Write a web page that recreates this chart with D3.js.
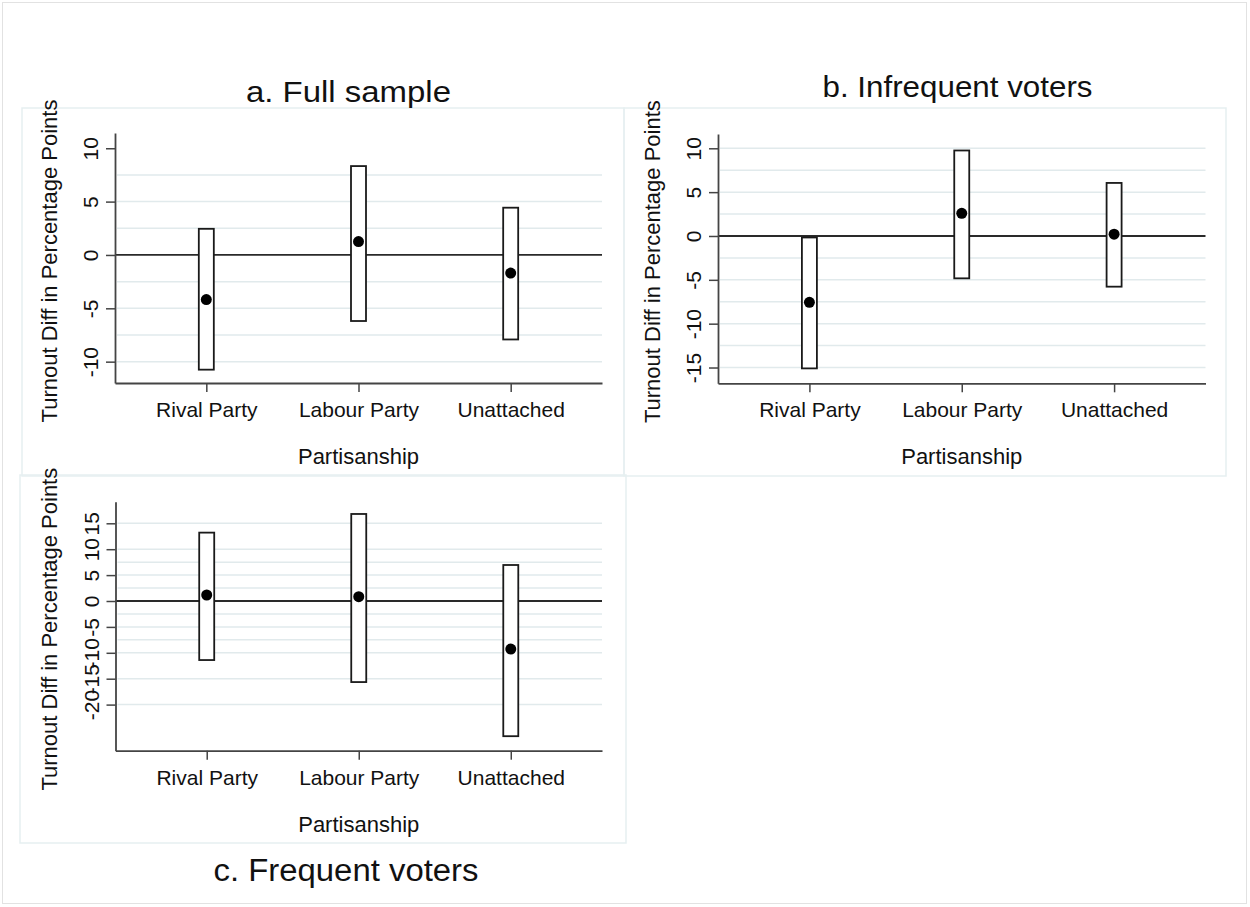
<!DOCTYPE html>
<html><head><meta charset="utf-8">
<script src="https://cdn.jsdelivr.net/npm/d3@7"></script>
<style>
body{margin:0;background:#fff}
svg{display:block;font-family:"Liberation Sans",Arial,Helvetica,sans-serif}
</style>
</head><body>
<svg id="chart" width="1250" height="907"></svg>
<script>
// ---- data ----
const categories = ["Rival Party", "Labour Party", "Unattached"];
const xAxisTitle = "Partisanship";
const yAxisTitle = "Turnout Diff in Percentage Points";
const panelTitles = ["a. Full sample", "b. Infrequent voters", "c. Frequent voters"];

const fullEst  = [-4.18, 1.26, -1.70];
const fullLow  = [-10.75, -6.19, -7.92];
const fullHigh = [2.45, 8.33, 4.43];

const infreqEst  = [-7.57, 2.59, 0.20];
const infreqLow  = [-15.1, -4.83, -5.78];
const infreqHigh = [-0.17, 9.75, 6.05];

const freqEst  = [1.16, 0.84, -9.27];
const freqLow  = [-11.4, -15.65, -26.1];
const freqHigh = [13.2, 16.8, 6.95];

const fullTicks   = [-10, -5, 0, 5, 10];
const infreqTicks = [-15, -10, -5, 0, 5, 10];
const freqTicks   = [-20, -15, -10, -5, 0, 5, 10, 15];

const fullGrid   = [-10, -7.5, -5, -2.5, 2.5, 5, 7.5];
const infreqGrid = [-15, -12.5, -10, -7.5, -5, -2.5, 2.5, 5, 7.5, 10];
const freqGrid   = [-20, -15, -10, -7.5, -5, -2.5, 2.5, 5, 7.5, 10, 15];

const fullRange   = [-12.0, 11.43];
const infreqRange = [-16.8, 11.63];
const freqRange   = [-28.9, 19.17];

// ---- layout ----
const panels = [
  {title: panelTitles[0], est: fullEst, lo: fullLow, hi: fullHigh, ticks: fullTicks, grid: fullGrid, range: fullRange,
   box: [22, 108, 602, 368], p: {l: 115, r: 602, t: 133, b: 383}, tt: {x: 348.5, y: 102, len: 205, size: 29}},
  {title: panelTitles[1], est: infreqEst, lo: infreqLow, hi: infreqHigh, ticks: infreqTicks, grid: infreqGrid, range: infreqRange,
   box: [624, 108, 602, 368], p: {l: 718, r: 1205.5, t: 134, b: 383.3}, tt: {x: 957.5, y: 97, len: 270, size: 29}},
  {title: panelTitles[2], est: freqEst, lo: freqLow, hi: freqHigh, ticks: freqTicks, grid: freqGrid, range: freqRange,
   box: [20, 475, 606, 368], p: {l: 115.5, r: 602, t: 501.7, b: 750.7}, tt: {x: 346, y: 881, len: 265, size: 31}}
];

const svg = d3.select("#chart");
const textColor = "#111";

svg.append("rect").attr("x", 2.5).attr("y", 2.5).attr("width", 1244).attr("height", 901)
  .attr("fill", "none").attr("stroke", "#e2e2e2").attr("stroke-width", 1);

panels.forEach(pn => {
  const g = svg.append("g");
  const p = pn.p;
  g.append("rect").attr("x", pn.box[0]).attr("y", pn.box[1]).attr("width", pn.box[2]).attr("height", pn.box[3])
    .attr("fill", "none").attr("stroke", "#e6eff1").attr("stroke-width", 1.5);

  const x = d3.scalePoint().domain(categories).range([p.l, p.r]).padding(0.6);
  const y = d3.scaleLinear().domain(pn.range).range([p.b, p.t]);

  g.selectAll(".grid").data(pn.grid).enter().append("line")
    .attr("x1", p.l + 2).attr("x2", p.r)
    .attr("y1", d => y(d)).attr("y2", d => y(d))
    .attr("stroke", "#e1eaec").attr("stroke-width", 1.5);

  g.append("line").attr("x1", p.l).attr("x2", p.r).attr("y1", y(0)).attr("y2", y(0))
    .attr("stroke", "#2a2a2a").attr("stroke-width", 1.8);

  const ya = g.append("g").attr("transform", `translate(${p.l},0)`)
    .call(d3.axisLeft(y).tickValues(pn.ticks).tickSize(9).tickSizeOuter(0).tickFormat(d => String(d)));
  ya.select(".domain").attr("stroke", "#444").attr("stroke-width", 1.8);
  ya.selectAll(".tick line").attr("stroke", "#444").attr("stroke-width", 1.5);
  ya.selectAll(".tick text")
    .attr("x", 0).attr("y", -17).attr("dy", 0)
    .attr("transform", "rotate(-90)")
    .attr("text-anchor", "middle")
    .attr("font-size", 21).attr("font-family", null)
    .attr("fill", textColor);

  const xa = g.append("g").attr("transform", `translate(0,${p.b})`)
    .call(d3.axisBottom(x).tickSize(9).tickSizeOuter(0));
  xa.select(".domain").attr("stroke", "#444").attr("stroke-width", 1.8);
  xa.selectAll(".tick line").attr("stroke", "#444").attr("stroke-width", 1.5);
  xa.selectAll(".tick text").attr("y", 34).attr("dy", 0)
    .attr("font-size", 21).attr("font-family", null).attr("fill", textColor);

  g.append("text").attr("x", (p.l + p.r) / 2).attr("y", p.b + 81)
    .attr("text-anchor", "middle").attr("font-size", 22).attr("fill", textColor).text(xAxisTitle);

  g.append("text").attr("transform", `translate(${p.l - 58.5},${(p.t + p.b) / 2 + 3}) rotate(-90)`)
    .attr("text-anchor", "middle").attr("font-size", 22).attr("fill", textColor).text(yAxisTitle);

  const idx = d3.range(categories.length);
  g.selectAll(".bar").data(idx).enter().append("rect")
    .attr("x", i => x(categories[i]) - 7.5).attr("width", 15)
    .attr("y", i => y(pn.hi[i])).attr("height", i => y(pn.lo[i]) - y(pn.hi[i]))
    .attr("fill", "#fff").attr("stroke", "#1a1a1a").attr("stroke-width", 1.8);

  g.selectAll(".dot").data(idx).enter().append("circle")
    .attr("cx", i => x(categories[i])).attr("cy", i => y(pn.est[i])).attr("r", 5.5)
    .attr("fill", "#000");

  g.append("text").attr("x", pn.tt.x).attr("y", pn.tt.y).attr("text-anchor", "middle")
    .attr("font-size", pn.tt.size).attr("fill", textColor)
    .attr("textLength", pn.tt.len).attr("lengthAdjust", "spacingAndGlyphs")
    .text(pn.title);
});
</script>
</body></html>
